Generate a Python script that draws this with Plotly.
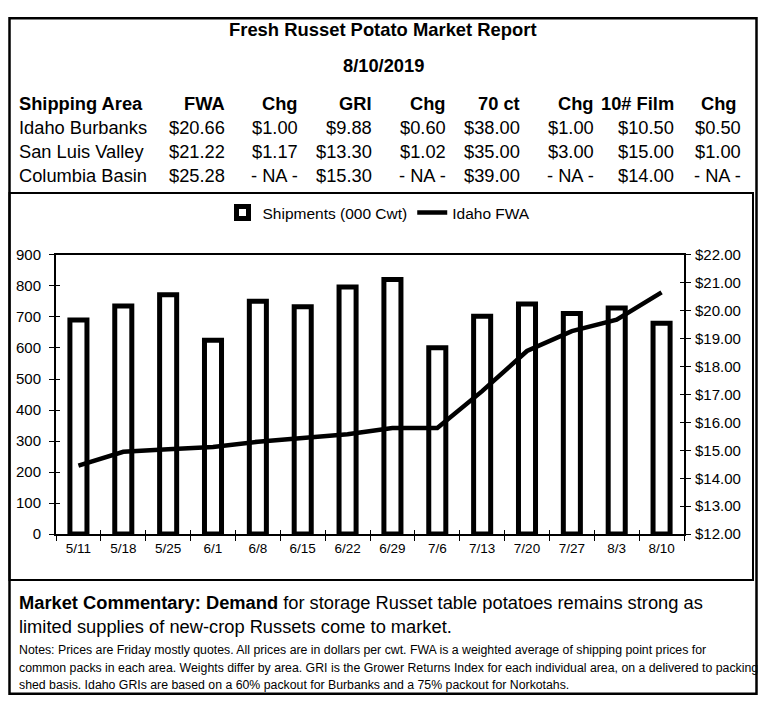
import plotly.graph_objects as go

# The page adds margins around the figure; size it to fit the 766x711 window
OFF = 8
W, H = 766 - 2 * OFF, 711 - 2 * OFF
FONT = "Liberation Sans, Arial, sans-serif"

# ---------------- data ----------------
weeks = ["5/11", "5/18", "5/25", "6/1", "6/8", "6/15", "6/22", "6/29",
         "7/6", "7/13", "7/20", "7/27", "8/3", "8/10"]
shipments = [690, 735, 772, 625, 751, 733, 797, 821, 601, 702, 742, 711, 729, 680]
idaho_fwa = [14.45, 14.95, 15.04, 15.12, 15.31, 15.45, 15.58, 15.80, 15.80,
             17.12, 18.56, 19.27, 19.68, 20.66]

table_headers = ["Shipping Area", "FWA", "Chg", "GRI", "Chg", "70 ct", "Chg", "10# Film", "Chg"]
areas = ["Idaho Burbanks", "San Luis Valley", "Columbia Basin"]
fwa = ["$20.66", "$21.22", "$25.28"]
fwa_chg = ["$1.00", "$1.17", "- NA -"]
gri = ["$9.88", "$13.30", "$15.30"]
gri_chg = ["$0.60", "$1.02", "- NA -"]
ct70 = ["$38.00", "$35.00", "$39.00"]
ct70_chg = ["$1.00", "$3.00", "- NA -"]
film10 = ["$10.50", "$15.00", "$14.00"]
film10_chg = ["$0.50", "$1.00", "- NA -"]

title_text = "Fresh Russet Potato Market Report"
date_text = "8/10/2019"
commentary_bold = "Market Commentary: Demand"
commentary_1 = " for storage Russet table potatoes remains strong as"
commentary_2 = "limited supplies of new-crop Russets come to market."
notes_lines = [
    "Notes: Prices are Friday mostly quotes. All prices are in dollars per cwt. FWA is a weighted average of shipping point prices for",
    "common packs in each area. Weights differ by area. GRI is the Grower Returns Index for each individual area, on a delivered to packing",
    "shed basis. Idaho GRIs are based on a 60% packout for Burbanks and a 75% packout for Norkotahs.",
]

# screen -> figure mapping (the captured page is squeezed slightly in height)
SY, OY = 0.975, 8.4


def px(x):
    return (x - OFF) / W


def py(y):
    fy = (y - OY) / SY - OFF
    fy = min(max(fy, 1.3), H - 1.3)
    return 1 - fy / H


# plot area in window pixels
L, R, T, B = 56, 684, 254, 533

fig = go.Figure()
fig.add_trace(go.Bar(
    x=weeks, y=shipments, name="Shipments (000 Cwt)",
    marker=dict(color="white", line=dict(color="black", width=5)),
    width=0.38, xaxis="x", yaxis="y",
))
fig.add_trace(go.Scatter(
    x=weeks, y=idaho_fwa, name="Idaho FWA", mode="lines",
    line=dict(color="black", width=4.5), xaxis="x", yaxis="y2",
))
# empty helper traces so the inner halves of the crossing tick marks get drawn
fig.add_trace(go.Scatter(x=weeks, y=[None] * len(weeks), xaxis="x2", yaxis="y3",
                         showlegend=False, hoverinfo="skip"))
fig.add_trace(go.Scatter(x=weeks, y=[None] * len(weeks), xaxis="x2", yaxis="y4",
                         showlegend=False, hoverinfo="skip"))

dom_x = [px(L), px(R)]
dom_y = [py(B), py(T)]
xtickfont = dict(family=FONT, size=13.5, color="black")
ytickfont = dict(family=FONT, size=15, color="black")

annotations = []


def txt(x, y, text, size, bold=False, xanchor="left"):
    annotations.append(dict(
        x=px(x), y=py(y), xref="paper", yref="paper", showarrow=False,
        text=f"<b>{text}</b>" if bold else text, xanchor=xanchor, yanchor="middle",
        font=dict(family=FONT, size=size, color="black"),
    ))


txt(383, 29, title_text, 18.4, bold=True, xanchor="center")
txt(383, 65, date_text, 18.3, bold=True, xanchor="center")

col_right = [None, 227, 300, 374, 448, 522, 596, 676, 739]
row_y = [103, 127, 151, 175]
for i, h in enumerate(table_headers):
    if i == 0:
        txt(17, row_y[0], h, 18.3, bold=True)
    else:
        txt(col_right[i], row_y[0], h, 18.3, bold=True, xanchor="right")
cols = [fwa, fwa_chg, gri, gri_chg, ct70, ct70_chg, film10, film10_chg]
cell_right = [227, 300, 374, 448, 522, 596, 676, 743]
for r in range(3):
    txt(17, row_y[r + 1], areas[r], 18.3)
    for c, col in enumerate(cols):
        txt(cell_right[c], row_y[r + 1], col[r], 18.3, xanchor="right")

txt(17, 601, f"<b>{commentary_bold}</b>{commentary_1}", 18.3)
txt(17, 625, commentary_2, 18.3)
for k, line in enumerate(notes_lines):
    txt(17, 649 + k * 17.5, line, 12.3)

shapes = [
    dict(type="rect", xref="paper", yref="paper", x0=px(9.5), x1=px(756.5), y0=py(3), y1=py(707),
         line=dict(color="black", width=2.5)),
    dict(type="rect", xref="paper", yref="paper", x0=px(9.5), x1=px(753), y0=py(192), y1=py(579),
         line=dict(color="black", width=2)),
]

fig.update_layout(
    width=W, height=H, margin=dict(l=0, r=0, t=0, b=0),
    paper_bgcolor="white", plot_bgcolor="white",
    font=dict(family=FONT, color="black"),
    showlegend=True,
    legend=dict(orientation="h", x=px(379), xanchor="center", y=py(212), yanchor="middle",
                font=dict(family=FONT, size=15.5, color="black"), bgcolor="rgba(0,0,0,0)",
                itemwidth=30, tracegroupgap=0),
    xaxis=dict(domain=dom_x, anchor="y", type="category", categoryorder="array",
               categoryarray=weeks, range=[-0.5, len(weeks) - 0.5],
               showline=True, linecolor="black", linewidth=2, mirror=True,
               ticks="outside", tickson="boundaries", ticklen=5, tickwidth=1, tickcolor="black",
               tickfont=xtickfont, showgrid=False, zeroline=False, ticklabelstandoff=1),
    xaxis2=dict(overlaying="x", anchor="y3", type="category", categoryorder="array",
                categoryarray=weeks, range=[-0.5, len(weeks) - 0.5],
                ticks="inside", tickson="boundaries", ticklen=4, tickwidth=1, tickcolor="black",
                showticklabels=False, showline=False, showgrid=False, zeroline=False),
    yaxis=dict(domain=dom_y, anchor="x", range=[0, 900], dtick=100,
               showline=True, linecolor="black", linewidth=2,
               ticks="outside", ticklen=5, tickwidth=1, tickcolor="black",
               tickfont=ytickfont, showgrid=False, zeroline=False, ticklabelstandoff=5),
    yaxis2=dict(overlaying="y", side="right", anchor="x", range=[12, 22], dtick=1,
                tickprefix="$", tickformat=".2f",
                showline=True, linecolor="black", linewidth=2,
                ticks="outside", ticklen=5, tickwidth=1, tickcolor="black",
                tickfont=ytickfont, showgrid=False, zeroline=False, ticklabelstandoff=1),
    yaxis3=dict(overlaying="y", side="left", anchor="x2", range=[0, 900], dtick=100,
                ticks="inside", ticklen=4, tickwidth=1, tickcolor="black",
                showticklabels=False, showline=False, showgrid=False, zeroline=False),
    yaxis4=dict(overlaying="y", side="right", anchor="x2", range=[12, 22], dtick=1,
                ticks="inside", ticklen=4, tickwidth=1, tickcolor="black",
                showticklabels=False, showline=False, showgrid=False, zeroline=False),
    annotations=annotations,
    shapes=shapes,
)

fig.write_html("out.html")
